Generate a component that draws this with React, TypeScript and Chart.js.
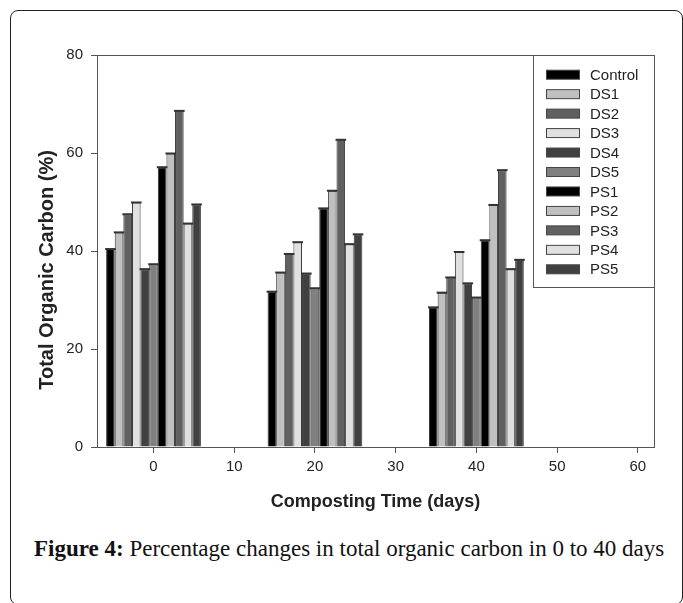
import React, { useEffect, useRef } from "react";
import { Chart, registerables } from "chart.js";

Chart.register(...registerables);

// ---- data ----
const days = [0, 20, 40];
const seriesNames = ["Control", "DS1", "DS2", "DS3", "DS4", "DS5", "PS1", "PS2", "PS3", "PS4", "PS5"];
const control = [40.4, 31.7, 28.5];
const ds1 = [43.8, 35.6, 31.5];
const ds2 = [47.5, 39.4, 34.6];
const ds3 = [49.9, 41.8, 39.8];
const ds4 = [36.3, 35.4, 33.4];
const ds5 = [37.3, 32.4, 30.5];
const ps1 = [57.1, 48.7, 42.2];
const ps2 = [59.9, 52.3, 49.4];
const ps3 = [68.6, 62.7, 56.5];
const ps4 = [45.6, 41.4, 36.3];
const ps5 = [49.5, 43.4, 38.2];
const seriesValues = [control, ds1, ds2, ds3, ds4, ds5, ps1, ps2, ps3, ps4, ps5];
const seriesColors = ["#000000", "#c0c0c0", "#606060", "#e0e0e0", "#404040", "#808080", "#000000", "#c0c0c0", "#606060", "#e0e0e0", "#404040"];
const xTicks = [0, 10, 20, 30, 40, 50, 60];
const yTicks = [0, 20, 40, 60, 80];

const SANS = "'Liberation Sans', Arial, sans-serif";

const framePlugin = {
  id: "frame",
  afterDraw(chart: any) {
    const { ctx, chartArea: a } = chart;
    ctx.save();
    ctx.strokeStyle = "#555";
    ctx.lineWidth = 1;
    ctx.strokeRect(a.left + 0.5, a.top + 0.5, a.right - a.left, a.bottom - a.top);
    ctx.restore();
  },
};

const capsPlugin = {
  id: "caps",
  afterDatasetsDraw(chart: any) {
    const { ctx } = chart;
    ctx.save();
    ctx.strokeStyle = "#333";
    ctx.lineWidth = 2;
    chart.data.datasets.forEach((_: any, i: number) => {
      const meta = chart.getDatasetMeta(i);
      meta.data.forEach((el: any) => {
        const w = el.width;
        ctx.beginPath();
        ctx.moveTo(el.x - w / 2 - 1, el.y);
        ctx.lineTo(el.x + w / 2 + 1, el.y);
        ctx.stroke();
      });
    });
    ctx.restore();
  },
};

const legendPlugin = {
  id: "boxLegend",
  afterDraw(chart: any) {
    const { ctx, chartArea: a } = chart;
    const boxW = 121;
    const boxH = 232;
    const left = a.right - boxW;
    const top = a.top;
    ctx.save();
    ctx.fillStyle = "#fff";
    ctx.fillRect(left, top, boxW, boxH);
    ctx.strokeStyle = "#555";
    ctx.lineWidth = 1;
    ctx.strokeRect(left + 0.5, top + 0.5, boxW, boxH);
    ctx.font = `15px ${SANS}`;
    ctx.textBaseline = "middle";
    ctx.textAlign = "left";
    chart.data.datasets.forEach((ds: any, i: number) => {
      const cy = top + 19.7 + i * 19.46;
      ctx.fillStyle = ds.backgroundColor;
      ctx.fillRect(left + 13, cy - 4.5, 34, 9);
      ctx.strokeStyle = "#444";
      ctx.strokeRect(left + 13.5, cy - 4.5, 33, 9);
      ctx.fillStyle = "#222";
      ctx.fillText(ds.label, left + 57, cy + 1);
    });
    ctx.restore();
  },
};

const yTitlePlugin = {
  id: "yTitle",
  afterDraw(chart: any) {
    const { ctx } = chart;
    ctx.save();
    ctx.translate(47, 270);
    ctx.rotate(-Math.PI / 2);
    ctx.font = `bold 20px ${SANS}`;
    ctx.fillStyle = "#222";
    ctx.textAlign = "center";
    ctx.textBaseline = "middle";
    ctx.fillText("Total Organic Carbon (%)", 0, 0);
    ctx.restore();
  },
};

function ChartCanvas() {
  const ref = useRef<HTMLCanvasElement | null>(null);
  useEffect(() => {
    if (!ref.current) return;
    const datasets = seriesNames.map((name, i) => ({
      label: name,
      data: days.map((d, j) => ({ x: d, y: seriesValues[i][j] })),
      backgroundColor: seriesColors[i],
      borderColor: "#333",
      borderWidth: 1,
      barPercentage: 1,
      categoryPercentage: 1.174,
    }));
    const chart = new Chart(ref.current, {
      type: "bar",
      data: { datasets },
      plugins: [framePlugin, capsPlugin, legendPlugin, yTitlePlugin],
      options: {
        animation: false,
        responsive: false,
        maintainAspectRatio: false,
        layout: { padding: { left: 0, top: 55, right: 29, bottom: 0 } },
        plugins: { legend: { display: false }, tooltip: { enabled: false } },
        scales: {
          x: {
            type: "linear",
            min: -7,
            max: 62,
            offset: false,
            afterBuildTicks: (s: any) => {
              s.ticks = xTicks.map((v) => ({ value: v }));
            },
            afterFit: (s: any) => {
              s.height = 83;
            },
            grid: { display: true, offset: false, drawOnChartArea: false, drawTicks: true, tickLength: 6, tickColor: "#555", color: "#555" },
            border: { display: true, color: "#555", width: 1 },
            ticks: { font: { family: SANS, size: 15 }, color: "#222", padding: 5, maxRotation: 0 },
            title: {
              display: true,
              text: "Composting Time (days)",
              font: { family: SANS, size: 18, weight: "bold" },
              color: "#222",
              padding: { top: 17.5, bottom: 17.5 },
            },
          },
          y: {
            type: "linear",
            min: 0,
            max: 80,
            afterBuildTicks: (s: any) => {
              s.ticks = yTicks.map((v) => ({ value: v }));
            },
            afterFit: (s: any) => {
              s.width = 97;
            },
            grid: { display: true, drawOnChartArea: false, drawTicks: true, tickLength: 6, tickColor: "#555", color: "#555" },
            border: { display: true, color: "#555", width: 1 },
            ticks: { font: { family: SANS, size: 15 }, color: "#222", padding: 8 },
            title: { display: false },
          },
        },
      } as any,
    });
    return () => chart.destroy();
  }, []);
  return (
    <canvas
      ref={ref}
      width={683}
      height={530}
      style={{ position: "absolute", left: 0, top: 0, width: 683, height: 530 }}
    />
  );
}

export default function App() {
  return (
    <div
      style={{
        position: "fixed",
        left: 0,
        top: 0,
        width: 683,
        height: 603,
        overflow: "hidden",
        background: "#fff",
      }}
    >
      <div
        style={{
          position: "absolute",
          left: 10,
          top: 10,
          width: 673,
          height: 595,
          boxSizing: "border-box",
          border: "1px solid #222",
          borderRadius: 8,
        }}
      />
      <ChartCanvas />
      <div
        style={{
          position: "absolute",
          left: 34,
          top: 537,
          fontFamily: "'Liberation Serif', 'Times New Roman', serif",
          fontSize: 23,
          lineHeight: "23px",
          color: "#111",
          whiteSpace: "nowrap",
        }}
      >
        <b>Figure 4:</b> Percentage changes in total organic carbon in 0 to 40 days
      </div>
    </div>
  );
}
